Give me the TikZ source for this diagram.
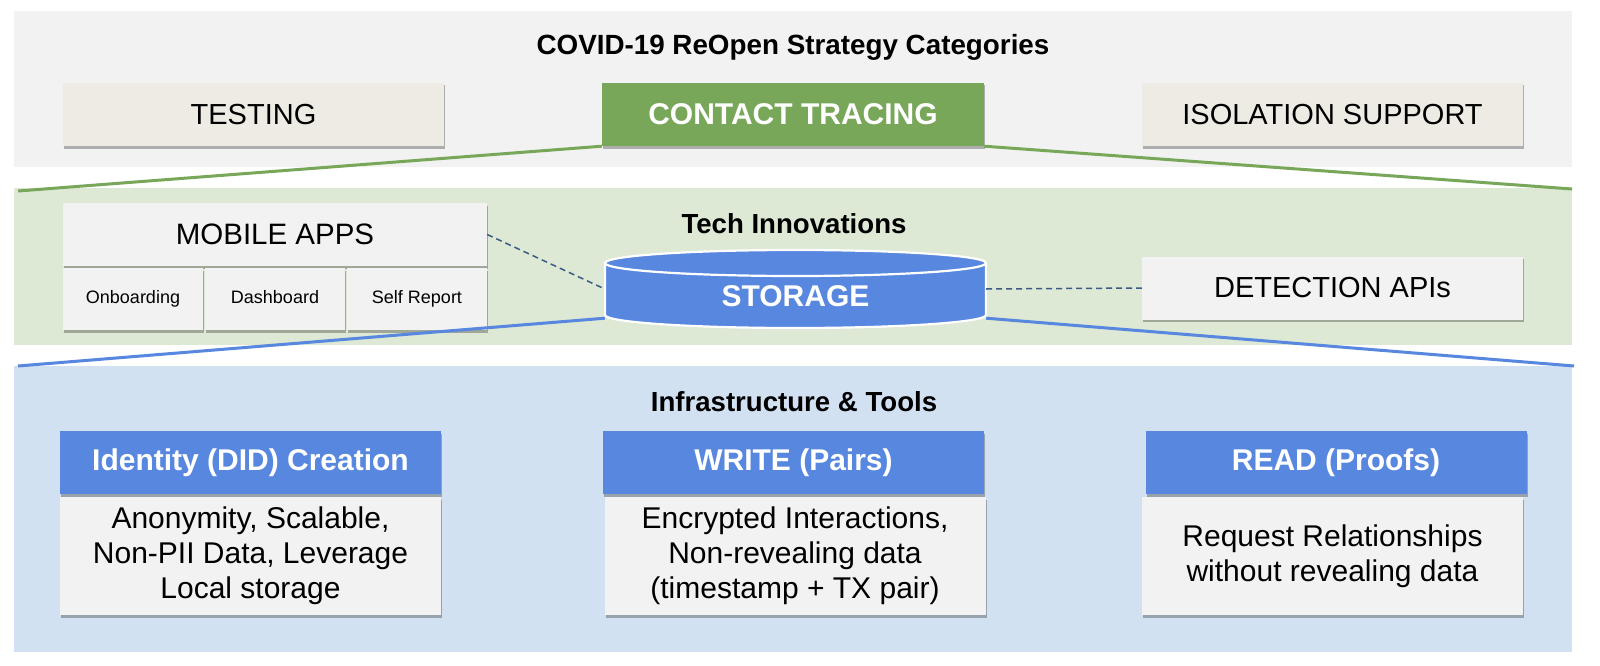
\documentclass[tikz,border=0pt]{standalone}
\usepackage{fontspec}
\setmainfont{Liberation Sans}
\usetikzlibrary{shadows}
\definecolor{topband}{HTML}{F2F2F2}
\definecolor{greenband}{HTML}{DDE8D5}
\definecolor{blueband}{HTML}{D2E1F1}
\definecolor{catfill}{HTML}{EEEBE4}
\definecolor{greenbox}{HTML}{78A75A}
\definecolor{bluebox}{HTML}{5787DF}
\definecolor{lightbox}{HTML}{F2F2F2}
\definecolor{dashcol}{HTML}{3B5B85}
\tikzset{
  shad/.style={drop shadow={shadow xshift=1.2pt, shadow yshift=-2.5pt, opacity=0.28, fill=black}},
  catbox/.style={shad, fill=catfill, draw=none, minimum width=381pt, minimum height=63pt, inner sep=0pt,
    font=\fontsize{29}{34}\selectfont},
  ctbox/.style={shad, fill=greenbox, draw=none, minimum width=382pt, minimum height=63pt, inner sep=0pt,
    text=white, font=\fontsize{30}{34}\selectfont\bfseries},
  appbox/.style={shad, fill=lightbox, draw=none, inner sep=0pt, font=\fontsize{29.5}{34}\selectfont},
  subbox/.style={shad, fill=lightbox, draw=none, minimum width=140pt, minimum height=62pt, inner sep=0pt,
    text height=13pt, text depth=4pt, font=\fontsize{18}{21}\selectfont},
  headbox/.style={shad, fill=bluebox, draw=none, minimum width=381pt, minimum height=63pt, inner sep=0pt,
    text=white, font=\fontsize{30}{34}\selectfont\bfseries},
  bodybox/.style={shad, fill=lightbox, draw=none, minimum width=381pt, minimum height=118pt, inner sep=0pt,
    align=center, font=\fontsize{30}{35}\selectfont},
  bandtitle/.style={font=\fontsize{27.6}{32}\selectfont\bfseries, inner sep=0pt},
  dashline/.style={draw=dashcol, line width=1.5pt, dash pattern=on 6pt off 4pt},
  greenline/.style={draw=greenbox, line width=3pt},
  blueline/.style={draw=bluebox, line width=3pt},
}
\begin{document}
\begin{tikzpicture}[x=1pt, y=-1pt]
\useasboundingbox[fill=white] (0,0) rectangle (1600,666);
% bands
\fill[topband] (14,11) rectangle (1572,167);
\fill[greenband] (14,188) rectangle (1572,345);
\fill[blueband] (14,366) rectangle (1572,652);

% top band
\node[font=\fontsize{27.8}{32}\selectfont\bfseries, inner sep=0pt] (title) at (793,47) {COVID-19 ReOpen Strategy Categories};
\node[catbox] (testing) at (253.5,114.5) {TESTING};
\node[ctbox] (contact) at (793,114.5) {CONTACT TRACING};
\node[catbox] (isolation) at (1332.5,114.5) {ISOLATION SUPPORT};

% green band
\node[bandtitle] (tech) at (794,224) {Tech Innovations};
\node[appbox, minimum width=424pt, minimum height=63pt] (mobile) at (275,234.5) {MOBILE APPS};
\node[subbox] (onboard) at (133,299) {Onboarding};
\node[subbox] (dash) at (275,299) {Dashboard};
\node[subbox] (selfrep) at (417,299) {Self Report};
\node[catbox, fill=lightbox] (detect) at (1332.5,288) {DETECTION APIs};

% storage cylinder
\fill[bluebox] (605,263) -- (605,315) arc[start angle=180, end angle=0, x radius=190.5, y radius=13] -- (986,263) -- cycle;
\draw[white, line width=2.2pt] (605,263) -- (605,315) arc[start angle=180, end angle=0, x radius=190.5, y radius=13] -- (986,263);
\draw[white, line width=2.2pt, fill=bluebox] (795.5,263) ellipse[x radius=190.5, y radius=13];
\node[minimum width=381pt, minimum height=58pt, inner sep=0pt] (stor) at (795.5,289) {};
\node[text=white, font=\fontsize{30}{34}\selectfont\bfseries, inner sep=0pt] (storlbl) at (795.5,296) {STORAGE};

% connectors
\draw[dashline] (mobile.east) -- (stor.west);
\draw[dashline] (stor.east) -- (detect.west);
\coordinate (gl) at (18,191);
\coordinate (gr) at (1572,189);
\draw[greenline] (contact.south west) -- (gl);
\draw[greenline] (contact.south east) -- (gr);
\coordinate (bl) at (18,366);
\coordinate (br) at (1574,366);
\draw[blueline] (stor.south west) -- (bl);
\draw[blueline] (stor.south east) -- (br);

% blue band
\node[bandtitle] (infra) at (794,402) {Infrastructure \& Tools};
\node[headbox] (h1) at (250.5,462.5) {Identity (DID) Creation};
\node[bodybox] (b1) at (250.5,556) {Anonymity, Scalable,\\Non-PII Data, Leverage\\Local storage};
\node[headbox] (h2) at (793.5,462.5) {WRITE (Pairs)};
\node[bodybox] (b2) at (795,556) {Encrypted Interactions,\\Non-revealing data\\(timestamp + TX pair)};
\node[headbox] (h3) at (1336,462.5) {READ (Proofs)};
\node[bodybox] (b3) at (1332.5,556) {Request Relationships\\without revealing data};
\end{tikzpicture}
\end{document}
